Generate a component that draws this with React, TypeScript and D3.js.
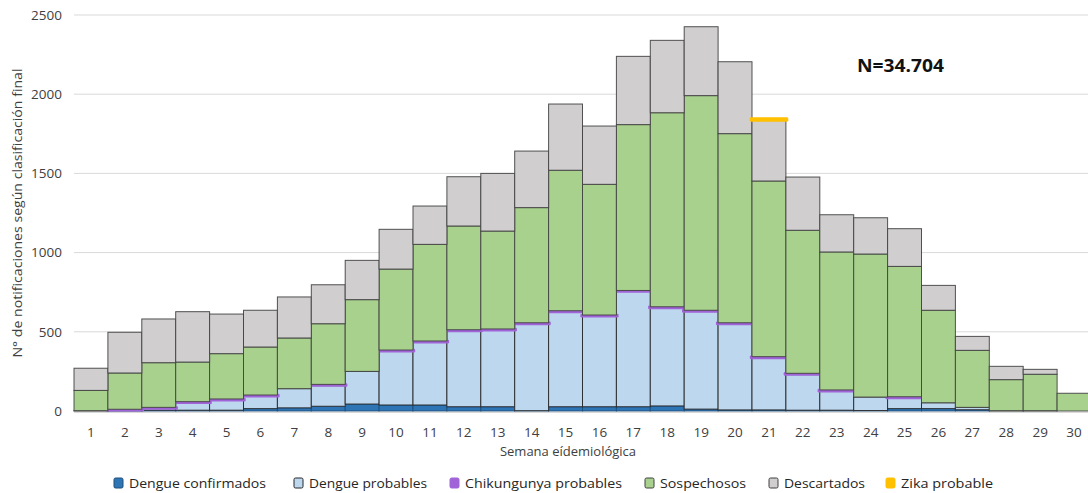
import React from "react";
import * as d3 from "d3";

const weeks = Array.from({ length: 30 }, (_, i) => String(i + 1));
const dengueConfirmados = [0, 2, 5, 5, 5, 15, 20, 30, 44, 38, 38, 27, 27, 2, 27, 27, 27, 32, 12, 7, 7, 5, 5, 3, 15, 15, 8, 0, 0, 0];
const dengueProbables = [2, 3, 10, 46, 63, 78, 121, 130, 206, 339, 396, 478, 483, 547, 598, 571, 730, 618, 616, 542, 328, 225, 120, 85, 67, 37, 15, 2, 2, 0];
const chikungunya = [0, 6, 8, 8, 8, 8, 0, 8, 0, 8, 8, 8, 8, 8, 8, 8, 4, 8, 8, 8, 8, 8, 8, 0, 8, 0, 0, 0, 0, 0];
const sospechosos = [128, 229, 282, 250, 286, 303, 320, 383, 453, 511, 610, 655, 618, 727, 887, 825, 1047, 1225, 1355, 1194, 1109, 903, 871, 903, 823, 584, 360, 196, 230, 112];
const descartados = [140, 257, 276, 318, 250, 232, 259, 246, 248, 251, 242, 311, 364, 357, 418, 368, 431, 457, 435, 454, 383, 336, 235, 229, 238, 157, 88, 84, 31, 0];
const zika = [0, 0, 0, 0, 0, 0, 0, 0, 0, 0, 0, 0, 0, 0, 0, 0, 0, 0, 0, 0, 10, 0, 0, 0, 0, 0, 0, 0, 0, 0];
const yTicks = [0, 500, 1000, 1500, 2000, 2500];

const seriesKeys = ["dc", "dp", "ch", "sos", "desc", "zika"];
const seriesNames = ["Dengue confirmados", "Dengue probables", "Chikungunya probables", "Sospechosos", "Descartados", "Zika probable"];
const fills = ["#2E75B6", "#BDD7EE", "#A064D8", "#A9D18E", "#D0CECE", "#FFC000"];
const strokes = ["#1F4E79", "#262626", "#A064D8", "#404040", "#404040", "#FFC000"];
const legendX = [114, 294, 450, 645, 769, 886];
const legendW = [137, 118, 157, 86, 81, 92];

const FONT = "'Open Sans', 'Noto Sans', sans-serif";

export default function App() {
  const W = 1088, H = 493;
  const x = d3.scaleBand<string>().domain(weeks).range([74, 74 + 30 * 33.9]).padding(0);
  const y = d3.scaleLinear().domain([0, 2500]).range([411, 15]);

  const table = weeks.map((w, i) => ({
    week: w,
    dc: dengueConfirmados[i],
    dp: dengueProbables[i],
    ch: chikungunya[i],
    sos: sospechosos[i],
    desc: descartados[i],
    zika: zika[i],
  }));
  const stacked = d3.stack<any>().keys(seriesKeys)(table);

  return (
    <svg width={W} height={H} style={{ position: "absolute", left: 0, top: 0, background: "#fff" }}>
      {yTicks.map((t) => (
        <g key={t}>
          {t > 0 && <line x1={74} x2={W} y1={y(t)} y2={y(t)} stroke="#D9D9D9" strokeWidth={1} />}
          <text x={62} y={y(t)} dy="0.35em" textAnchor="end" fontFamily={FONT} fontSize={13.5} fill="#404040">
            {t}
          </text>
        </g>
      ))}
      <line x1={74} x2={W} y1={y(0) + 1.5} y2={y(0) + 1.5} stroke="#D9D9D9" strokeWidth={1} />

      {stacked.map((layer, si) => (
        <g key={seriesKeys[si]}>
          {layer.map((d, i) => {
            const v = d[1] - d[0];
            if (v <= 0) return null;
            const x0 = x(weeks[i])!;
            const bw = x.bandwidth();
            if (si === 2 || si === 5) {
              return (
                <rect
                  key={i}
                  x={x0 - 1}
                  width={bw + 2}
                  y={y(d[1])}
                  height={Math.max(1, y(d[0]) - y(d[1]))}
                  fill={fills[si]}
                  stroke={strokes[si]}
                  strokeWidth={si === 5 ? 2.8 : 2.4}
                  strokeLinejoin="round"
                />
              );
            }
            return (
              <rect
                key={i}
                x={x0}
                width={bw}
                y={y(d[1])}
                height={y(d[0]) - y(d[1])}
                fill={fills[si]}
                stroke={strokes[si]}
                strokeWidth={1}
                strokeOpacity={0.9}
              />
            );
          })}
        </g>
      ))}

      {weeks.map((w) => (
        <text key={w} x={x(w)! + x.bandwidth() / 2} y={437} textAnchor="middle" fontFamily={FONT} fontSize={13.5} fill="#404040">
          {w}
        </text>
      ))}

      <text x={568} y={456} textAnchor="middle" fontFamily={FONT} fontSize={13} fill="#404040">
        Semana  eídemiológica
      </text>

      <text
        transform="translate(22,213) rotate(-90)"
        textAnchor="middle"
        fontFamily={FONT}
        fontSize={12.5}
        fill="#404040"
        textLength={289}
        lengthAdjust="spacingAndGlyphs"
      >
        N° de notificaciones según clasificación final
      </text>

      <text x={857} y={72} fontFamily={FONT} fontSize={17} fontWeight="bold" fill="#111" textLength={87} lengthAdjust="spacingAndGlyphs">
        N=34.704
      </text>

      {seriesNames.map((name, i) => (
        <g key={name} transform={`translate(${legendX[i]},478)`}>
          <rect x={0} y={0} width={9} height={10} rx={1.5} fill={fills[i]} stroke={i === 1 ? "#262626" : strokes[i]} strokeWidth={1} />
          <text x={15} y={10} fontFamily={FONT} fontSize={13.5} fill="#262626" textLength={legendW[i]} lengthAdjust="spacingAndGlyphs">
            {name}
          </text>
        </g>
      ))}
    </svg>
  );
}
